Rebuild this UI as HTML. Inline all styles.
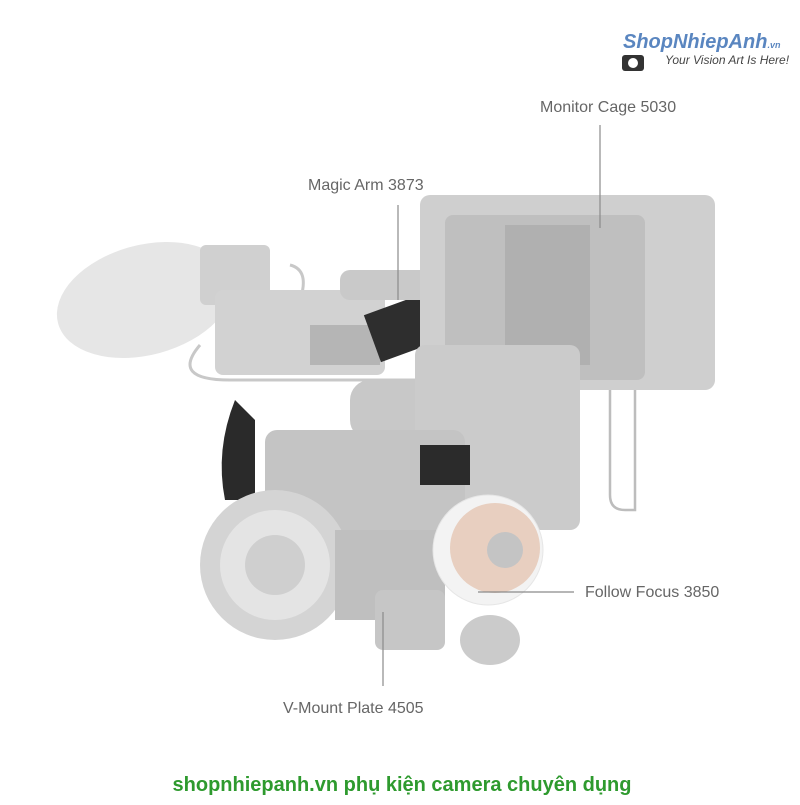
<!DOCTYPE html>
<html><head><meta charset="utf-8"><style>
body{margin:0;width:800px;height:800px;background:#fff;overflow:hidden;font-family:"Liberation Sans",sans-serif}
</style></head><body>
<svg width="800" height="800" xmlns="http://www.w3.org/2000/svg">
<g font-family="Liberation Sans, sans-serif">
<text x="623" y="48" font-size="20" font-weight="bold" font-style="italic" fill="#5a86c0">ShopNhiepAnh<tspan font-size="9">.vn</tspan></text>
<text x="665" y="64" font-size="12" font-style="italic" fill="#444">Your Vision Art Is Here!</text>
<rect x="622" y="55" width="22" height="16" rx="3" fill="#333"/>
<circle cx="633" cy="63" r="5" fill="#fff"/>
</g>
<!-- cables -->
<path d="M200 345 Q170 380 230 380 L420 380" stroke="#c8c8c8" stroke-width="3" fill="none"/>
<path d="M610 370 L610 495 Q610 510 625 510 L635 510 L635 380" stroke="#bdbdbd" stroke-width="2.5" fill="none"/>
<path d="M290 265 Q310 270 300 300" stroke="#c8c8c8" stroke-width="3" fill="none"/>
<!-- mic -->
<ellipse cx="145" cy="300" rx="90" ry="55" fill="#e6e6e6" transform="rotate(-15 145 300)"/>
<rect x="200" y="245" width="70" height="60" rx="6" fill="#d0d0d0"/>
<!-- handle unit -->
<rect x="215" y="290" width="170" height="85" rx="8" fill="#d2d2d2"/>
<rect x="310" y="325" width="70" height="40" fill="#b5b5b5"/>
<rect x="370" y="300" width="80" height="50" fill="#2e2e2e" transform="rotate(-20 410 325)"/>
<rect x="340" y="270" width="100" height="30" rx="10" fill="#c9c9c9"/>
<!-- monitor cage -->
<rect x="420" y="195" width="295" height="195" rx="10" fill="#cfcfcf"/>
<rect x="445" y="215" width="200" height="165" rx="8" fill="#bfbfbf"/>
<rect x="505" y="225" width="85" height="140" fill="#b0b0b0"/>
<!-- body/grip -->
<rect x="350" y="380" width="90" height="60" rx="20" fill="#c8c8c8"/>
<rect x="415" y="345" width="165" height="185" rx="10" fill="#cbcbcb"/>
<rect x="265" y="430" width="200" height="130" rx="12" fill="#c4c4c4"/>
<path d="M235 400 Q215 450 225 500 L255 500 L255 420 Z" fill="#2a2a2a"/>
<rect x="420" y="445" width="50" height="40" fill="#2b2b2b"/>
<!-- lens -->
<circle cx="275" cy="565" r="75" fill="#d4d4d4"/>
<circle cx="275" cy="565" r="55" fill="#e4e4e4"/>
<circle cx="275" cy="565" r="30" fill="#cfcfcf"/>
<rect x="335" y="530" width="110" height="90" fill="#bfbfbf"/>
<rect x="375" y="590" width="70" height="60" rx="8" fill="#c6c6c6"/>
<ellipse cx="490" cy="640" rx="30" ry="25" fill="#cbcbcb"/>
<!-- follow focus -->
<circle cx="488" cy="550" r="55" fill="#f3f3f3" stroke="#e6e6e6"/>
<circle cx="495" cy="548" r="45" fill="#e8cfc0"/>
<circle cx="505" cy="550" r="18" fill="#c4c4c4"/>
<!-- leader lines -->
<g stroke="#8a8a8a" stroke-width="1.2">
<line x1="600" y1="125" x2="600" y2="228"/>
<line x1="398" y1="205" x2="398" y2="300"/>
<line x1="478" y1="592" x2="574" y2="592"/>
<line x1="383" y1="612" x2="383" y2="686"/>
</g>
<g font-family="Liberation Sans, sans-serif" font-size="16" fill="#666">
<text x="540" y="112">Monitor Cage 5030</text>
<text x="308" y="190">Magic Arm 3873</text>
<text x="585" y="597">Follow Focus 3850</text>
<text x="283" y="713">V-Mount Plate 4505</text>
</g>
<text x="402" y="791" text-anchor="middle" font-family="Liberation Sans, sans-serif" font-size="20" font-weight="bold" fill="#2e9a2e">shopnhiepanh.vn phụ kiện camera chuyên dụng</text>
</svg>
</body></html>
